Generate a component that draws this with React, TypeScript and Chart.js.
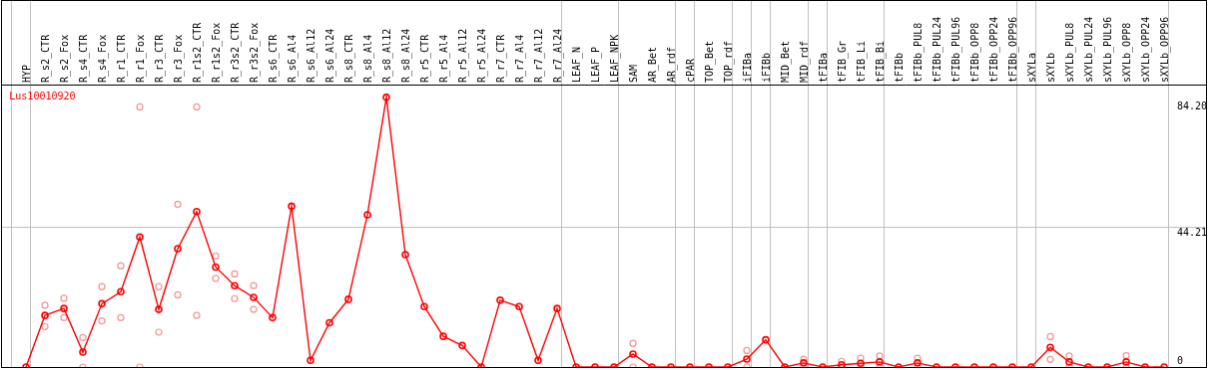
import React, { useEffect, useRef } from 'react';
import { Chart, registerables } from 'chart.js';

Chart.register(...registerables);

const N = null;

const geneName = 'Lus10010920';

const categories = [
  'HYP',
  'R_s2_CTR', 'R_s2_Fox', 'R_s4_CTR', 'R_s4_Fox', 'R_r1_CTR', 'R_r1_Fox', 'R_r3_CTR', 'R_r3_Fox',
  'R_r1s2_CTR', 'R_r1s2_Fox', 'R_r3s2_CTR', 'R_r3s2_Fox',
  'R_s6_CTR', 'R_s6_Al4', 'R_s6_Al12', 'R_s6_Al24',
  'R_s8_CTR', 'R_s8_Al4', 'R_s8_Al12', 'R_s8_Al24',
  'R_r5_CTR', 'R_r5_Al4', 'R_r5_Al12', 'R_r5_Al24',
  'R_r7_CTR', 'R_r7_Al4', 'R_r7_Al12', 'R_r7_Al24',
  'LEAF_N', 'LEAF_P', 'LEAF_NPK',
  'SAM', 'AR_Bet', 'AR_rdf', 'cPAR', 'TOP_Bet', 'TOP_rdf', 'iFIBa', 'iFIBb', 'MID_Bet', 'MID_rdf',
  'tFIBa', 'tFIB_Gr', 'tFIB_Li', 'tFIB_Bi',
  'tFIBb', 'tFIBb_PUL8', 'tFIBb_PUL24', 'tFIBb_PUL96', 'tFIBb_OPP8', 'tFIBb_OPP24', 'tFIBb_OPP96',
  'sXYLa', 'sXYLb', 'sXYLb_PUL8', 'sXYLb_PUL24', 'sXYLb_PUL96', 'sXYLb_OPP8', 'sXYLb_OPP24', 'sXYLb_OPP96',
];

const meanValues = [
  0, 16.3, 18.5, 4.7, 20.0, 23.8, 41.1, 18.2, 37.4, 49.1,
  31.6, 25.7, 22.0, 15.6, 50.8, 2.1, 14.0, 21.4, 48.1, 85.2,
  35.5, 19.1, 9.7, 6.8, 0, 21.1, 19.1, 2.1, 18.5, 0,
  0, 0, 4.1, 0, 0, 0, 0, 0, 2.5, 8.6,
  0, 1.3, 0, 0.7, 1.2, 1.6, 0, 1.3, 0, 0,
  0, 0, 0, 0, 6.2, 1.6, 0, 0, 1.6, 0, 0,
];

const repHigh = [
  N, 19.5, 21.7, 9.3, 25.4, 32.0, 82.2, 25.4, 51.4, 82.2,
  35.1, 29.4, 25.7, N, N, N, N, N, N, N,
  N, N, N, N, N, N, N, N, N, N,
  N, N, 7.5, N, N, N, N, N, 5.2, N,
  N, 2.5, N, 1.8, 2.8, 3.5, N, 2.8, N, N,
  N, N, N, N, 9.6, 3.5, N, N, 3.6, N, N,
];

const repLow = [
  N, 12.8, 15.6, 0, 14.6, 15.6, 0, 11.0, 22.8, 16.3,
  28.0, 21.6, 18.2, N, N, N, N, N, N, N,
  N, N, N, N, N, N, N, N, N, N,
  N, N, 0, N, N, N, N, N, 0, N,
  N, 0, N, 0, 0, 0, N, 0, N, N,
  N, N, N, N, 2.4, 0, N, N, 0, N, N,
];

const yTickValues = [0, 44.21, 84.2];
const yTickLabels = ['0', '44.21', '84.20'];
const yGridValues = [44.21];
// index of the last category in each group (-1 = frame line before the first group)
const groupEnds = [-1, 0, 28, 31, 34, 35, 37, 38, 39, 41, 42, 45, 52, 53, 60];

const SEP_SHIFT = 0.235;
const GRAY = '#c0c0c0';
const CLEAR = 'rgba(0,0,0,0)';
const MONO = "'DejaVu Sans Mono', monospace";

const titlePlugin = {
  id: 'geneTitle',
  afterDatasetsDraw(chart: any) {
    const { ctx, chartArea } = chart;
    ctx.save();
    ctx.font = `10px ${MONO}`;
    ctx.fillStyle = '#ff0000';
    ctx.textAlign = 'left';
    ctx.textBaseline = 'middle';
    ctx.fillText(chart.data.datasets[0].label, chartArea.left + 7.3, chartArea.top + 12.3);
    ctx.restore();
  },
};

export default function App() {
  const ref = useRef<HTMLCanvasElement | null>(null);

  useEffect(() => {
    if (!ref.current) return;
    const meanData = meanValues.map((v, i) => ({ x: i, y: v }));
    const repData: { x: number; y: number }[] = [];
    repHigh.forEach((v, i) => { if (v !== null) repData.push({ x: i, y: v }); });
    repLow.forEach((v, i) => { if (v !== null) repData.push({ x: i, y: v }); });

    const xMin = -24 / 19;
    const xMax = xMin + 1206 / 19;

    const chart = new Chart(ref.current, {
      type: 'line',
      data: {
        datasets: [
          {
            type: 'line',
            label: geneName,
            data: meanData,
            borderColor: '#ff0000',
            borderWidth: 1.4,
            pointRadius: 3,
            pointBorderWidth: 1.6,
            pointBorderColor: '#ff0000',
            pointBackgroundColor: CLEAR,
            fill: false,
            tension: 0,
            order: 0,
          },
          {
            type: 'scatter',
            label: 'replicates',
            data: repData,
            showLine: false,
            pointRadius: 3,
            pointBorderWidth: 1.2,
            pointBorderColor: 'rgb(240,150,150)',
            pointBackgroundColor: CLEAR,
            order: 1,
          },
        ],
      } as any,
      options: {
        responsive: false,
        animation: false,
        devicePixelRatio: 1,
        events: [],
        layout: { padding: 0, autoPadding: false },
        plugins: { legend: { display: false }, tooltip: { enabled: false }, title: { display: false } },
        scales: {
          x: {
            type: 'linear',
            position: 'top',
            min: xMin,
            max: xMax,
            bounds: 'data',
            afterBuildTicks: (s: any) => {
              const t = [];
              for (let i = -1; i < categories.length; i++) t.push({ value: i + SEP_SHIFT });
              s.ticks = t;
            },
            afterFit: (s: any) => {
              s.height = 84;
              s.paddingLeft = 0;
              s.paddingRight = 0;
              s.paddingTop = 0;
              s.paddingBottom = 0;
            },
            border: { display: true, color: '#000000', width: 1 },
            grid: {
              color: (c: any) => {
                const v = c.tick ? c.tick.value : NaN;
                const i = Math.round(v - SEP_SHIFT);
                return groupEnds.includes(i) ? GRAY : CLEAR;
              },
              lineWidth: 1,
              drawTicks: true,
              tickLength: 84,
            },
            ticks: {
              autoSkip: false,
              minRotation: 90,
              maxRotation: 90,
              padding: -82,
              labelOffset: 9,
              color: '#000000',
              font: { family: MONO, size: 10, lineHeight: 1.2 },
              callback: (value: any) => {
                const i = Math.round(Number(value) - SEP_SHIFT);
                return categories[i] ?? '';
              },
            },
          },
          y: {
            type: 'linear',
            position: 'right',
            min: 0,
            max: 89.24,
            bounds: 'data',
            afterBuildTicks: (s: any) => { s.ticks = yTickValues.map((v) => ({ value: v })); },
            afterFit: (s: any) => {
              s.width = 0;
              s.paddingLeft = 0;
              s.paddingRight = 0;
              s.paddingTop = 0;
              s.paddingBottom = 0;
            },
            border: { display: false },
            grid: {
              color: (c: any) => (c.tick && yGridValues.includes(c.tick.value) ? GRAY : CLEAR),
              lineWidth: 1,
              drawTicks: false,
            },
            ticks: {
              mirror: true,
              crossAlign: 'far',
              padding: 1,
              autoSkip: false,
              color: '#000000',
              font: { family: MONO, size: 10, lineHeight: 1.2 },
              callback: (_v: any, i: number) => {
                const lab = yTickLabels[i];
                return yTickValues[i] === 0 ? [lab, ''] : ['', lab];
              },
            },
          },
        },
      } as any,
      plugins: [titlePlugin],
    });
    return () => chart.destroy();
  }, []);

  return (
    <div style={{ position: 'absolute', left: 1, top: 0, width: 1208, height: 370 }}>
      <canvas
        ref={ref}
        width={1206}
        height={368}
        style={{ display: 'block', border: '1px solid #000000', width: 1206, height: 368 }}
      />
    </div>
  );
}
